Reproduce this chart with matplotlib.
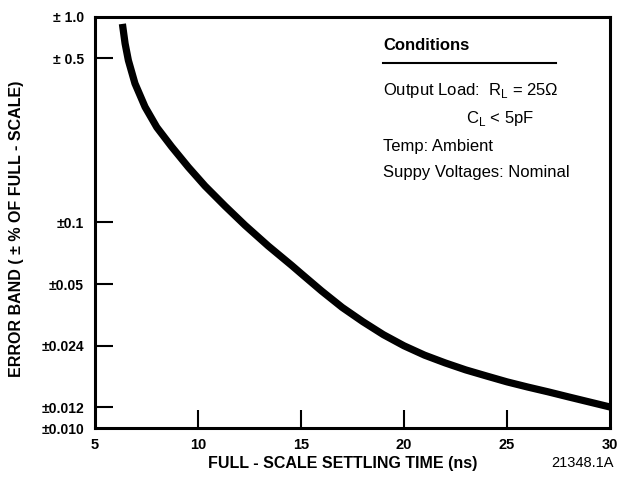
import numpy as np
import matplotlib
matplotlib.use('Agg')
import matplotlib.pyplot as plt

# --- Data ---
settling_time = [6.33, 6.46, 6.62, 6.94, 7.43, 8.0, 8.72, 9.53, 10.34, 11.31, 12.28, 13.41,
                 14.55, 15, 16, 17, 18, 19, 20, 21, 22, 23, 24, 25, 26, 27, 28, 29, 30]
error_band = [0.89, 0.64, 0.489, 0.39, 0.31, 0.254, 0.21, 0.172, 0.143, 0.1175, 0.097, 0.0768,
              0.0617, 0.0564, 0.0461, 0.0379, 0.0320, 0.0274, 0.0240, 0.0216, 0.0198, 0.0183,
              0.0171, 0.0160, 0.0151, 0.0143, 0.0135, 0.01276, 0.01206]

x_ticks = [5, 10, 15, 20, 25, 30]
y_ticks = [0.010, 0.012, 0.024, 0.05, 0.1, 0.5, 1.0]
y_tick_labels = ['±0.010', '±0.012', '±0.024', '±0.05', '±0.1', '± 0.5', '± 1.0']

# the printed y axis is hand-spaced: fraction of axis height for each tick
y_tick_frac = [0.0, 0.05, 0.2, 0.35, 0.5, 0.9, 1.0]

FONT = ['Liberation Sans Narrow', 'Liberation Sans', 'DejaVu Sans']
plt.rcParams['font.family'] = FONT
plt.rcParams['mathtext.fontset'] = 'custom'
plt.rcParams['mathtext.rm'] = FONT[1]


def main():
    log_ticks = np.log10(y_ticks)

    def forward(v):
        v = np.clip(np.asarray(v, dtype=float), 1e-6, None)
        return np.interp(np.log10(v), log_ticks, y_tick_frac)

    def inverse(f):
        return 10 ** np.interp(np.asarray(f, dtype=float), y_tick_frac, log_ticks)

    fig = plt.figure(figsize=(6.18, 4.86), dpi=100)
    ax = fig.add_axes([95 / 618, 1 - 428 / 486, 515 / 618, 411 / 486])

    ax.plot(settling_time, error_band, color='black', lw=5.2, solid_capstyle='butt',
            solid_joinstyle='round')

    ax.set_yscale('function', functions=(forward, inverse))
    ax.set_xlim(5, 30)
    ax.set_ylim(0.010, 1.0)

    ax.set_xticks(x_ticks)
    ax.set_xticklabels([str(t) for t in x_ticks], fontweight='bold', fontsize=10.5)
    ax.set_yticks(y_ticks)
    ax.set_yticklabels(y_tick_labels, fontweight='bold', fontsize=10)
    ax.minorticks_off()

    ax.tick_params(axis='both', direction='in', length=13, width=1.5)
    ax.tick_params(axis='x', pad=7)
    ax.tick_params(axis='y', pad=8)
    # no tick marks at the axis ends
    ax.xaxis.get_major_ticks()[0].tick1line.set_visible(False)
    ax.xaxis.get_major_ticks()[-1].tick1line.set_visible(False)
    ax.yaxis.get_major_ticks()[0].tick1line.set_visible(False)
    ax.yaxis.get_major_ticks()[-1].tick1line.set_visible(False)

    for s in ax.spines.values():
        s.set_linewidth(2.2)

    # --- Axis titles ---
    fig.text(17 / 618, 1 - 229 / 486, 'ERROR BAND ( ± % OF FULL - SCALE)', rotation=90,
             ha='center', va='center', fontweight='bold', fontsize=11.5)
    fig.text(343 / 618, 1 - 463 / 486, 'FULL - SCALE SETTLING TIME (ns)',
             ha='center', va='center', fontweight='bold', fontsize=11.5)
    fig.text(582 / 618, 1 - 463 / 486, '21348.1A', ha='center', va='center', fontsize=10.5)

    # --- Conditions block ---
    fig.text(383 / 618, 1 - 46 / 486, 'Conditions', ha='left', va='center',
             fontweight='bold', fontsize=12)
    fig.add_artist(plt.Line2D([383 / 618, 556 / 618], [1 - 63 / 486, 1 - 63 / 486],
                              color='black', lw=1.5, transform=fig.transFigure))
    fig.text(383 / 618, 1 - 91 / 486, r'Output Load:  R$_\mathrm{L}$ = 25Ω',
             ha='left', va='center', fontsize=12)
    fig.text(466 / 618, 1 - 118 / 486, r'C$_\mathrm{L}$ < 5pF',
             ha='left', va='center', fontsize=12)
    fig.text(383 / 618, 1 - 146 / 486, 'Temp: Ambient', ha='left', va='center', fontsize=12)
    fig.text(383 / 618, 1 - 173 / 486, 'Suppy Voltages: Nominal',
             ha='left', va='center', fontsize=12)

    fig.savefig('out.png', dpi=100)


if __name__ == '__main__':
    main()
